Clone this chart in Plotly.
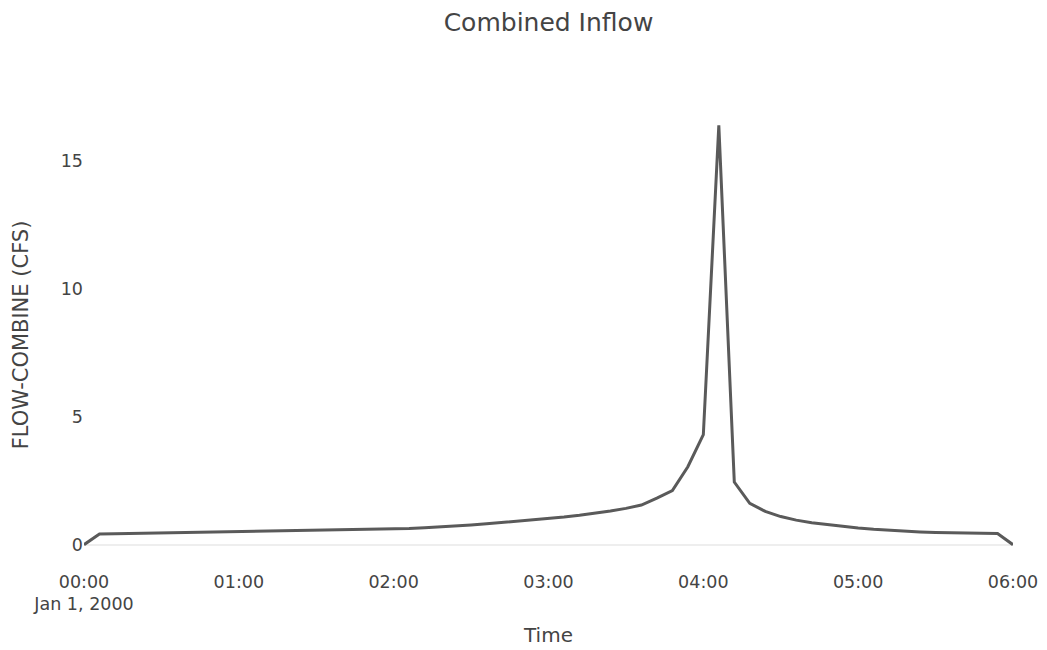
import pandas as pd
import plotly.graph_objects as go

start_time = "2000-01-01 00:00"
step = "6min"
flow_cfs = [
    0.0, 0.42, 0.43, 0.44, 0.44, 0.45, 0.46, 0.47, 0.48, 0.49,
    0.50, 0.51, 0.52, 0.53, 0.54, 0.55, 0.56, 0.57, 0.58, 0.59,
    0.61, 0.63, 0.66, 0.69, 0.73, 0.77, 0.82, 0.87, 0.92, 0.97,
    1.02, 1.08, 1.15, 1.23, 1.32, 1.42, 1.55, 1.82, 2.12, 3.05,
    4.30, 16.4, 2.45, 1.62, 1.30, 1.10, 0.96, 0.86, 0.78, 0.71,
    0.65, 0.60, 0.56, 0.53, 0.50, 0.48, 0.47, 0.46, 0.45, 0.44,
    0.0,
]
times = pd.date_range(start_time, periods=len(flow_cfs), freq=step)

FONT = "DejaVu Sans, Verdana, sans-serif"

fig = go.Figure(
    go.Scatter(
        x=times,
        y=flow_cfs,
        mode="lines",
        line=dict(color="#5a5a5a", width=3),
        showlegend=False,
    )
)

fig.update_layout(
    width=1047,
    height=650,
    paper_bgcolor="white",
    plot_bgcolor="white",
    margin=dict(l=84, r=34, t=102, b=82),
    font=dict(family=FONT, size=17, color="#444"),
    title=dict(
        text="Combined Inflow",
        x=0.5,
        xref="paper",
        y=1 - 22 / 650,
        yref="container",
        xanchor="center",
        yanchor="middle",
        font=dict(family=FONT, size=25, color="#444"),
    ),
    xaxis=dict(
        title=dict(text="Time", font=dict(size=20), standoff=14),
        automargin=False,
        showgrid=False,
        zeroline=False,
        showline=False,
        ticks="",
        dtick=3600000,
        tickformat="%H:%M\n%b %-d, %Y",
        tickfont=dict(size=17.5),
        ticklabelstandoff=1,
    ),
    yaxis=dict(
        title=dict(text="FLOW-COMBINE (CFS)", font=dict(size=21), standoff=26),
        automargin=False,
        showgrid=False,
        zeroline=True,
        zerolinecolor="#eeeeee",
        zerolinewidth=2,
        showline=False,
        ticks="",
        dtick=5,
        tickfont=dict(size=17.5),
    ),
)

fig.write_html("out.html")
